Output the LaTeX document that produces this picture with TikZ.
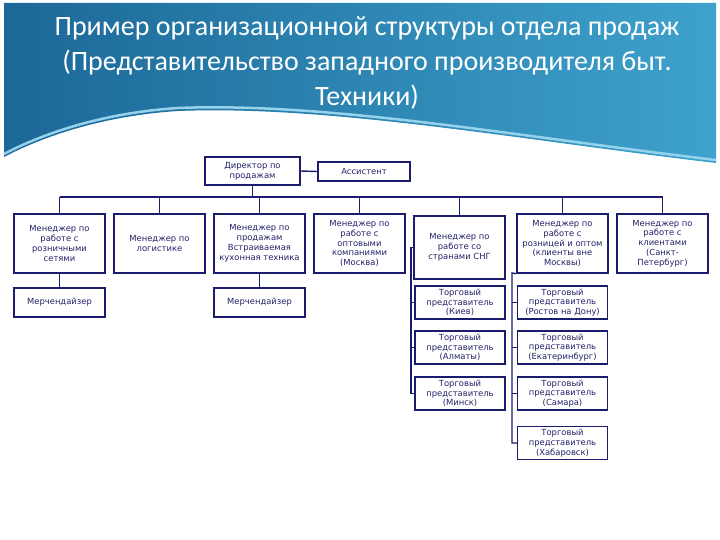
\documentclass[tikz,border=0pt]{standalone}
\usepackage{fontspec}
\newfontfamily\boxfont{DejaVu Sans}
\newfontfamily\titlefont{Carlito}
\definecolor{navy}{RGB}{28,28,110}
\definecolor{navytext}{RGB}{35,35,105}
\definecolor{bgdark}{RGB}{28,104,152}
\definecolor{bglight}{RGB}{62,162,204}
\definecolor{edgelight}{RGB}{150,210,235}
\tikzset{
  orgbox/.style={draw=navy, line width=1.4pt, fill=white, text=navytext, align=center,
    inner sep=1pt, font=\boxfont\fontsize{8.4}{9.8}\selectfont},
  conn/.style={draw=navy, line width=1.4pt},
}
\begin{document}
\begin{tikzpicture}[x=1pt,y=-1pt]
\useasboundingbox (0,0) rectangle (720,540);
\fill[white] (0,0) rectangle (720,540);
% background wave
\shade[left color=bgdark, right color=bglight]
  (4,3) -- (716,3) -- (716,163)
  .. controls (520,140) and (330,105) .. (178,111)
  .. controls (100,116) and (40,138) .. (4,157) -- cycle;
\draw[edgelight, line width=2.5pt]
  (716,160) .. controls (520,137) and (330,102) .. (178,108)
  .. controls (100,113) and (40,135) .. (4,154);
\node[text=white, align=center, font=\titlefont\fontsize{28}{35}\selectfont] (title) at (367,63)
  {Пример организационной структуры отдела продаж\\(Представительство западного производителя быт.\\Техники)};
% level 1
\node[orgbox, minimum width=95, minimum height=28] (dir) at (252.5,171) {Директор по\\продажам};
\node[orgbox, minimum width=92, minimum height=19] (asst) at (364,171.5) {Ассистент};
% level 2
\begin{scope}[every node/.append style={orgbox, minimum width=91, minimum height=59}]
\node (b1) at (59.5,243.5) {Менеджер по\\работе с\\розничными\\сетями};
\node (b2) at (159.5,243.5) {Менеджер по\\логистике};
\node (b3) at (259.5,243.5) {Менеджер по\\продажам\\Встраиваемая\\кухонная техника};
\node (b4) at (359.5,243.5) {Менеджер по\\работе с\\оптовыми\\компаниями\\(Москва)};
\node[minimum height=63] (b5) at (459.5,247.5) {Менеджер по\\работе со\\странами СНГ};
\node (b6) at (562.5,243.5) {Менеджер по\\работе с\\розницей и оптом\\(клиенты вне\\Москвы)};
\node (b7) at (662.5,243.5) {Менеджер по\\работе с\\клиентами\\(Санкт-\\Петербург)};
\end{scope}
% level 3
\node[orgbox, minimum width=91, minimum height=29] (m1) at (59.5,302.5) {Мерчендайзер};
\node[orgbox, minimum width=91, minimum height=29] (m3) at (259.5,302.5) {Мерчендайзер};
\begin{scope}[every node/.append style={orgbox, minimum width=90, minimum height=33}]
\node (kiev) at (460,302.5) {Торговый\\представитель\\(Киев)};
\node (alm) at (460,347.5) {Торговый\\представитель\\(Алматы)};
\node (minsk) at (460,393.5) {Торговый\\представитель\\(Минск)};
\node (rost) at (562.5,302.5) {Торговый\\представитель\\(Ростов на Дону)};
\node (ekb) at (562.5,347.5) {Торговый\\представитель\\(Екатеринбург)};
\node (sam) at (562.5,393.5) {Торговый\\представитель\\(Самара)};
\node (khab) at (562.5,443) {Торговый\\представитель\\(Хабаровск)};
\end{scope}
% connectors
\coordinate (bus) at (0,197);
\draw[conn] (dir.east) -- (asst.west);
\draw[conn] (dir.south) -- (dir.south |- bus);
\draw[conn] (b1.north |- bus) -- (b7.north |- bus);
\foreach \b in {b1,b2,b3,b4,b5,b6,b7} {\draw[conn] (\b.north |- bus) -- (\b.north);}
\draw[conn] (b1.south) -- (m1.north);
\draw[conn] (b3.south) -- (m3.north);
\coordinate (v5) at (411,247.5);
\draw[conn] (b5.west) -- (v5) |- (minsk.west);
\draw[conn] (kiev.west) -- (kiev.west -| v5);
\draw[conn] (alm.west) -- (alm.west -| v5);
\coordinate (v6) at (512,273);
\draw[conn] (b6.south west) -- (v6) |- (khab.west);
\draw[conn] (rost.west) -- (rost.west -| v6);
\draw[conn] (ekb.west) -- (ekb.west -| v6);
\draw[conn] (sam.west) -- (sam.west -| v6);
\end{tikzpicture}
\end{document}
